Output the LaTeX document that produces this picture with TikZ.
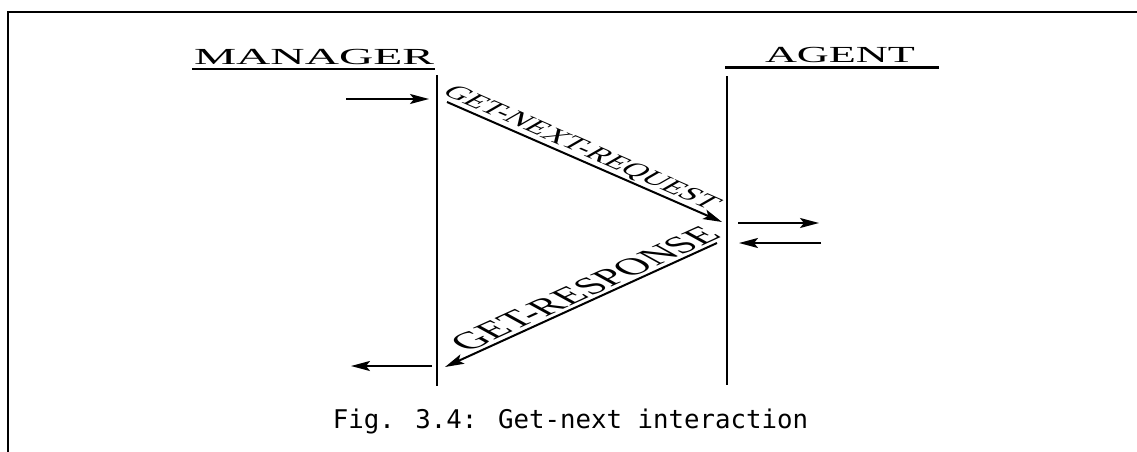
\documentclass[tikz,border=0pt]{standalone}
\usepackage{fontspec}
\setmainfont{Liberation Serif}
\newfontfamily\capfont{DejaVu Sans Mono}
\usetikzlibrary{arrows.meta}
\tikzset{
  frameline/.style={line width=2pt},
  lifeline/.style={line width=2.2pt},
  uline/.style={line width=2.4pt},
  msg/.style={line width=2pt, -{Stealth[length=19pt,width=10pt,inset=4pt]}},
  title/.style={inner sep=0pt, font=\fontsize{23}{27}\selectfont},
  reqfont/.style={inner sep=0pt, font=\fontsize{18.5}{22}\selectfont},
  respfont/.style={inner sep=0pt, font=\fontsize{24}{28}\selectfont},
  caption/.style={inner sep=0pt, font=\capfont\fontsize{25.75}{30}\selectfont}
}
\begin{document}
\begin{tikzpicture}[x=1pt,y=-1pt]
\useasboundingbox[fill=white] (0,0) rectangle (1137,452);
% frame
\coordinate (fbl) at (7.5,452);
\coordinate (ftl) at (7.5,12);
\coordinate (ftr) at (1137,12);
\draw[frameline] (fbl) -- (ftl) -- (ftr);
% titles
\node[title, anchor=base] (mgr) at (314,64) {\scalebox{2.064}[1]{MANAGER}};
\node[title, anchor=base] (agt) at (840,62.5) {\scalebox{1.925}[1]{AGENT}};
\coordinate (mgrUL) at (192,69);
\coordinate (mgrUR) at (435,69);
\coordinate (agtUL) at (725,67.5);
\coordinate (agtUR) at (939,67.5);
\draw[uline] (mgrUL) -- (mgrUR);
\draw[uline] (agtUL) -- (agtUR);
% lifelines
\coordinate (mgrTop) at (437,75);
\coordinate (mgrBot) at (437,386);
\coordinate (agtTop) at (727,76);
\coordinate (agtBot) at (727,385);
\draw[lifeline] (mgrTop) -- (mgrBot);
\draw[lifeline] (agtTop) -- (agtBot);
% external arrows
\coordinate (inS) at (346,99);
\coordinate (inE) at (429,99);
\draw[msg] (inS) -- (inE);
\coordinate (outS) at (432,366);
\coordinate (outE) at (351,366);
\draw[msg] (outS) -- (outE);
\coordinate (aoS) at (738,223);
\coordinate (aoE) at (819,223);
\draw[msg] (aoS) -- (aoE);
\coordinate (aiS) at (821,243);
\coordinate (aiE) at (739,243);
\draw[msg] (aiS) -- (aiE);
% messages
\coordinate (reqS) at (447,102);
\coordinate (reqE) at (722,222);
\draw[msg] (reqS) -- (reqE);
\coordinate (respS) at (717,243);
\coordinate (respE) at (445,367);
\draw[msg] (respS) -- (respE);
\node[reqfont, anchor=base, cm={1.5068,-0.6576,1.3152,0.7534,(0,0)}] (reqlab) at (574.5,151.7) {GET-NEXT-REQUEST};
\node[respfont, anchor=base, cm={1.477,0.6743,-1.3486,0.7385,(0,0)}] (resplab) at (595.7,294.3) {GET-RESPONSE};
% caption
\node[caption, anchor=base] (cap) at (570.5,428) {Fig. 3.4: Get-next interaction};
\end{tikzpicture}
\end{document}
